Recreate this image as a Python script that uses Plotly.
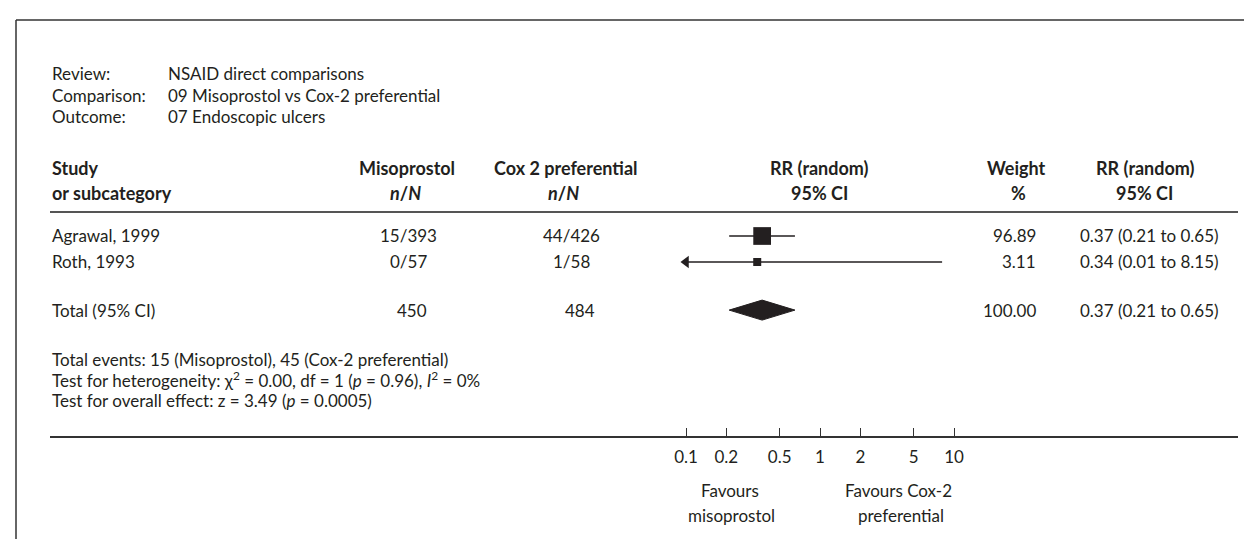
import numpy as np
import plotly.graph_objects as go

W, H = 1252, 539

# header info
review = "NSAID direct comparisons"
comparison = "09 Misoprostol vs Cox-2 preferential"
outcome = "07 Endoscopic ulcers"

# study data
studies = ["Agrawal, 1999", "Roth, 1993"]
miso_nN = ["15/393", "0/57"]
cox_nN = ["44/426", "1/58"]
rr = [0.37, 0.34]
ci_lo = [0.21, 0.01]
ci_hi = [0.65, 8.15]
weights = [96.89, 3.11]

# pooled result
total_miso = 450
total_cox = 484
total_rr = 0.37
total_lo = 0.21
total_hi = 0.65
total_weight = 100.00

tick_vals = [0.1, 0.2, 0.5, 1, 2, 5, 10]
tick_text = ["0.1", "0.2", "0.5", "1", "2", "5", "10"]

FONT = "Lato"
INK = "#231f20"
FS = 17
FS_B = 18


def px(x):
    return x / W


def py(y):
    return 1 - y / H


# forest axis: 1 sits at x=812, 134 px per decade, axis line from 42 to 1230
x_left, x_right, x_one, per_dec = 42, 1230, 812, 134
x_range = [(x_left - x_one) / per_dec, (x_right - x_one) / per_dec]

# rows: 26 px each, header rule at y=204, axis at y=428
row_px = 26
r_top = 1 - (228 - 204) / row_px
r_bot = r_top + (428 - 204) / row_px
study_rows = [1, 2]
total_row = 3.85
disp_min = tick_vals[0]

fig = go.Figure()

# confidence intervals (clipped at display limit, arrow when beyond)
for lo, hi, r in zip(ci_lo, ci_hi, study_rows):
    fig.add_trace(go.Scatter(x=[max(lo, disp_min), hi], y=[r, r], mode="lines",
                             line=dict(color=INK, width=1.4), hoverinfo="skip"))
    if lo < disp_min:
        fig.add_trace(go.Scatter(x=[disp_min], y=[r], mode="markers",
                                 marker=dict(symbol="triangle-left", size=11, color=INK, opacity=1),
                                 hoverinfo="skip"))

# point estimates, square area by weight
sizes = [max(8, 18 * np.sqrt(w / 100)) for w in weights]
fig.add_trace(go.Scatter(x=rr, y=study_rows, mode="markers",
                         marker=dict(symbol="square", size=sizes, color=INK, opacity=1,
                                     line=dict(width=0)),
                         hoverinfo="skip"))

# pooled diamond
dh = 10 / row_px
fig.add_trace(go.Scatter(x=[total_lo, total_rr, total_hi, total_rr, total_lo],
                         y=[total_row, total_row - dh, total_row, total_row + dh, total_row],
                         mode="lines", fill="toself", fillcolor=INK,
                         line=dict(color=INK, width=1), hoverinfo="skip"))

ann = []


def txt(x, y, s, anchor="left", bold=False, yref="paper"):
    size = FS
    if bold:
        s = "<b>" + s + "</b>"
        size = FS_B
    ann.append(dict(x=px(x), y=y if yref == "y" else py(y), xref="paper", yref=yref,
                    text=s, showarrow=False, xanchor=anchor, yanchor="middle",
                    font=dict(family=FONT, size=size, color=INK)))


# top block
for y, label, val in [(65, "Review:", review), (87, "Comparison:", comparison), (109, "Outcome:", outcome)]:
    txt(42, y, label)
    txt(158, y, val)

# column headers
txt(42, 160, "Study", bold=True)
txt(42, 185, "or subcategory", bold=True)
txt(399, 160, "Misoprostol", "center", True)
txt(397, 185, "<i>n</i>/<i>N</i>", "center", True)
txt(558, 160, "Cox 2 preferential", "center", True)
txt(555, 185, "<i>n</i>/<i>N</i>", "center", True)
txt(811, 160, "RR (random)", "center", True)
txt(811, 185, "95% CI", "center", True)
txt(1008, 160, "Weight", "center", True)
txt(1010, 185, "%", "center", True)
txt(1137, 160, "RR (random)", "center", True)
txt(1136, 185, "95% CI", "center", True)

# study rows
for i, r in enumerate(study_rows):
    txt(42, r, studies[i], yref="y")
    txt(400, r, miso_nN[i], "center", yref="y")
    txt(563, r, cox_nN[i], "center", yref="y")
    txt(1030, r, f"{weights[i]:.2f}", "right", yref="y")
    txt(1070, r, f"{rr[i]:.2f} ({ci_lo[i]:.2f} to {ci_hi[i]:.2f})", yref="y")

txt(42, total_row, "Total (95% CI)", yref="y")
txt(421, total_row, str(total_miso), "right", yref="y")
txt(589, total_row, str(total_cox), "right", yref="y")
txt(1030, total_row, f"{total_weight:.2f}", "right", yref="y")
txt(1070, total_row, f"{total_rr:.2f} ({total_lo:.2f} to {total_hi:.2f})", yref="y")

# summary statistics
txt(42, 351, "Total events: 15 (Misoprostol), 45 (Cox-2 preferential)")
txt(42, 371, "Test for heterogeneity: χ<sup>2</sup> = 0.00, df = 1 (<i>p</i> = 0.96), <i>I</i><sup>2</sup> = 0%")
txt(42, 392, "Test for overall effect: z = 3.49 (<i>p</i> = 0.0005)")

# favours labels
txt(722, 482, "Favours", "center")
txt(723, 507, "misoprostol", "center")
txt(891, 482, "Favours Cox-2", "center")
txt(893, 507, "preferential", "center")

shapes = [
    # frame
    dict(type="line", xref="paper", yref="paper", x0=px(8), x1=1, y0=py(12), y1=py(12),
         line=dict(color="#333", width=1.5)),
    dict(type="line", xref="paper", yref="paper", x0=px(8), x1=px(8), y0=py(12), y1=0,
         line=dict(color="#333", width=1.5)),
    # header rule
    dict(type="line", xref="paper", yref="paper", x0=px(42), x1=px(1230), y0=py(204), y1=py(204),
         line=dict(color="#555", width=2)),
    # line of no effect
    dict(type="line", xref="x", yref="y domain", x0=np.log10(1), x1=np.log10(1), y0=0, y1=1,
         line=dict(color=INK, width=1.5)),
]

fig.update_layout(
    width=W, height=H,
    margin=dict(l=0, r=0, t=0, b=0),
    paper_bgcolor="white", plot_bgcolor="white",
    showlegend=False,
    annotations=ann, shapes=shapes,
    xaxis=dict(type="log", domain=[px(x_left), px(x_right)], range=x_range,
               tickvals=tick_vals, ticktext=tick_text, ticks="inside", ticklen=8,
               tickcolor="#333", tickwidth=1.2, showline=True, linecolor="#333", linewidth=1.5,
               showgrid=False, zeroline=False, ticklabelstandoff=5,
               tickfont=dict(family=FONT, size=FS, color=INK), anchor="y"),
    yaxis=dict(domain=[py(428), py(204)], range=[r_bot, r_top], visible=False,
               showgrid=False, zeroline=False),
)

fig.write_html("out.html")
